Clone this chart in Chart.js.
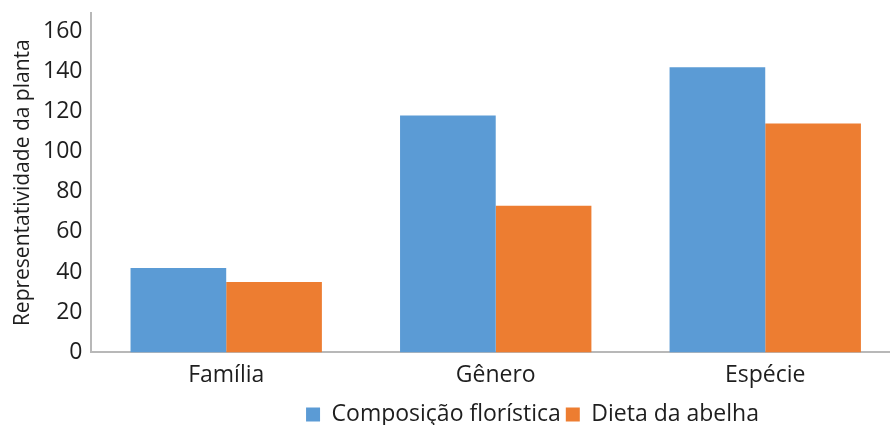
<!DOCTYPE html>
<html>
<head>
<meta charset="utf-8">
<script src="https://cdn.jsdelivr.net/npm/chart.js@4.4.1/dist/chart.umd.min.js"></script>
<style>
  html, body { margin: 0; padding: 0; background: #fff; overflow: hidden; }
  .chart { position: relative; width: 900px; height: 425px; }
</style>
</head>
<body>
<div class="chart"><canvas></canvas></div>
<script>
const categories = ["Família", "Gênero", "Espécie"];
const composicao = [42, 118, 142];
const dieta = [35, 73, 114];
const seriesNames = ["Composição florística", "Dieta da abelha"];
const yTicks = [0, 20, 40, 60, 80, 100, 120, 140, 160];

const colors = {
  blue: "#5B9BD5",
  orange: "#ED7D31",
  axis: "#b8b8b8",
  text: "#1e1e1e",
};

Chart.defaults.font.family = "'Open Sans', sans-serif";
Chart.defaults.color = colors.text;

// legend sits right of centre in the original
const legendShift = {
  id: "legendShift",
  afterLayout(chart) {
    const lg = chart.legend;
    if (!lg) return;
    lg.left += 76;
    lg.right += 76;
  },
};

const ctx = document.querySelector(".chart canvas").getContext("2d");

new Chart(ctx, {
  type: "bar",
  data: {
    labels: categories,
    datasets: [
      {
        label: seriesNames[0],
        data: composicao,
        backgroundColor: colors.blue,
        categoryPercentage: 0.71,
        barPercentage: 1,
      },
      {
        label: seriesNames[1],
        data: dieta,
        backgroundColor: colors.orange,
        categoryPercentage: 0.71,
        barPercentage: 1,
      },
    ],
  },
  plugins: [legendShift],
  options: {
    responsive: true,
    maintainAspectRatio: false,
    animation: false,
    layout: {
      padding: { top: 13, left: 13, right: 0, bottom: -11 },
    },
    plugins: {
      tooltip: { enabled: false },
      legend: {
        position: "bottom",
        labels: {
          boxWidth: 14,
          boxHeight: 14,
          padding: 5,
          font: { size: 23 },
        },
      },
    },
    scales: {
      x: {
        grid: { display: false, drawTicks: false },
        border: { display: true, color: colors.axis, width: 2 },
        ticks: { font: { size: 23 }, padding: 9 },
      },
      y: {
        min: 0,
        max: 169,
        afterBuildTicks: (axis) => {
          axis.ticks = yTicks.map((v) => ({ value: v }));
        },
        grid: { display: false, drawTicks: false },
        border: { display: true, color: colors.axis, width: 2 },
        ticks: { font: { size: 23, lineHeight: 0.3 }, padding: 9 },
        title: {
          display: true,
          text: "Representatividade da planta",
          font: { size: 21, lineHeight: 1 },
          padding: { top: 0, bottom: 0 },
        },
      },
    },
  },
});
</script>
</body>
</html>
